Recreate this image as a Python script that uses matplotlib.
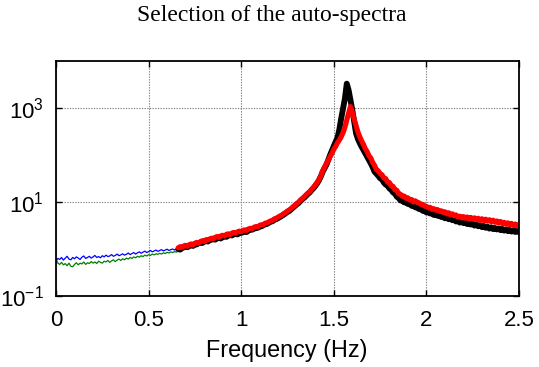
import numpy as np
import matplotlib
matplotlib.use("Agg")
import matplotlib.pyplot as plt
from matplotlib.ticker import NullLocator, FixedLocator

plt.rcParams['font.family'] = ['Liberation Sans', 'DejaVu Sans']
plt.rcParams['mathtext.default'] = 'regular'

# ---- data ----
title = "Selection of the auto-spectra"
xlabel = "Frequency (Hz)"
x_ticks = [0, 0.5, 1, 1.5, 2, 2.5]
x_ticklabels = ["0", "0.5", "1", "1.5", "2", "2.5"]
y_ticks = [0.1, 10, 1000]
y_ticklabels = [r"$\mathregular{10^{-1}}$", r"$\mathregular{10^{1}}$", r"$\mathregular{10^{3}}$"]

low_f_start, low_f_step = 0.00, 0.01
blue_vals = [0.55, 0.63, 0.60, 0.66, 0.58, 0.64, 0.70, 0.61, 0.59, 0.66,
             0.62, 0.68, 0.64, 0.60, 0.67, 0.71, 0.63, 0.66, 0.70, 0.64,
             0.68, 0.73, 0.66, 0.69, 0.65, 0.72, 0.68, 0.74, 0.69, 0.71,
             0.76, 0.70, 0.73, 0.78, 0.72, 0.75, 0.79, 0.74, 0.77, 0.82,
             0.76, 0.80, 0.84, 0.78, 0.83, 0.87, 0.81, 0.86, 0.90, 0.84,
             0.88, 0.93, 0.87, 0.91, 0.95, 0.89, 0.93, 0.97, 0.91, 0.95,
             0.99, 0.93, 0.97, 1.00, 0.95, 0.99, 1.02, 0.98, 1.01]
green_vals = [0.60, 0.50, 0.47, 0.52, 0.46, 0.49, 0.44, 0.50, 0.43, 0.42,
              0.47, 0.51, 0.46, 0.50, 0.48, 0.53, 0.47, 0.51, 0.49, 0.54,
              0.50, 0.53, 0.49, 0.55, 0.52, 0.50, 0.55, 0.53, 0.57, 0.52,
              0.56, 0.59, 0.54, 0.58, 0.61, 0.57, 0.62, 0.59, 0.64, 0.61,
              0.66, 0.63, 0.68, 0.65, 0.70, 0.67, 0.72, 0.69, 0.74, 0.71,
              0.76, 0.73, 0.78, 0.75, 0.79, 0.77, 0.81, 0.78, 0.83, 0.80,
              0.85, 0.82, 0.87, 0.84, 0.88, 0.86, 0.90, 0.88, 0.91]

main_f_start, main_f_step = 0.66, 0.01
black_vals = [1.00, 0.97, 1.05, 1.08, 1.12, 1.09, 1.18, 1.20, 1.16, 1.27,
              1.25, 1.33, 1.38, 1.34, 1.43, 1.48, 1.44, 1.55, 1.58, 1.62,
              1.58, 1.70, 1.73, 1.67, 1.80, 1.86, 1.81, 1.93, 1.98, 1.94,
              2.05, 2.10, 2.04, 2.18, 2.20, 2.28, 2.35, 2.30, 2.48, 2.56,
              2.58, 2.72, 2.78, 2.83, 3.00, 3.04, 3.22, 3.35, 3.42, 3.65,
              3.80, 3.92, 4.20, 4.33, 4.55, 4.80, 5.08, 5.40, 5.75, 6.15,
              6.45, 7.00, 7.55, 8.20, 8.90, 9.50, 10.5, 11.5, 12.3, 13.5,
              14.8, 16.0, 17.8, 19.6, 22.0, 25.0, 29.0, 35.0, 44.0, 52.0,
              62, 78, 100, 125, 155, 190, 235, 350, 600, 980,
              1600, 3300, 2400, 1480, 910, 510, 290, 220, 180, 150,
              128, 108, 92, 78, 66, 55, 44, 40, 36, 32,
              30.5, 26.0, 23.5, 22.4, 19.5, 18.2, 16.0, 15.1, 13.0, 12.2,
              10.8, 10.7, 9.8, 9.9, 9.1, 9.0, 8.3, 8.3, 7.7, 7.6,
              7.1, 7.1, 6.5, 6.5, 6.0, 6.1, 5.7, 5.8, 5.3, 5.5,
              5.1, 5.2, 4.8, 4.95, 4.5, 4.7, 4.3, 4.4, 4.1, 4.2,
              3.85, 4.0, 3.65, 3.85, 3.55, 3.7, 3.4, 3.55, 3.3, 3.45,
              3.15, 3.3, 3.05, 3.2, 2.92, 3.1, 2.83, 2.98, 2.72, 2.9,
              2.65, 2.8, 2.6, 2.72, 2.52, 2.68, 2.46, 2.6, 2.4, 2.55,
              2.35, 2.48, 2.30, 2.42, 2.28]
red_vals = [1.06, 1.12, 1.08, 1.16, 1.20, 1.14, 1.24, 1.28, 1.22, 1.33,
            1.38, 1.32, 1.44, 1.50, 1.45, 1.58, 1.55, 1.64, 1.70, 1.66,
            1.78, 1.84, 1.76, 1.90, 1.96, 1.88, 2.05, 2.10, 2.02, 2.18,
            2.25, 2.16, 2.32, 2.40, 2.33, 2.50, 2.55, 2.48, 2.68, 2.76,
            2.70, 2.92, 3.00, 2.95, 3.20, 3.28, 3.30, 3.55, 3.62, 3.78,
            3.98, 4.08, 4.40, 4.50, 4.80, 5.05, 5.25, 5.70, 5.95, 6.45,
            6.80, 7.25, 7.95, 8.50, 9.30, 9.90, 11.0, 11.8, 12.9, 14.0,
            15.5, 16.6, 18.6, 20.5, 23.0, 26.0, 30.0, 36.0, 46.0, 55.0,
            66, 76, 92, 108, 132, 152, 182, 208, 245, 300,
            390, 550, 780, 1070, 820, 580, 420, 310, 245, 200,
            168, 136, 118, 96, 86, 69, 60, 49, 46, 40,
            38, 32.5, 31.5, 26.5, 26.0, 22.0, 21.5, 18.2, 17.8, 15.0,
            14.6, 13.2, 13.4, 12.0, 12.3, 11.0, 11.3, 10.0, 10.6, 9.9,
            9.6, 8.9, 8.9, 8.2, 8.1, 7.5, 7.7, 7.0, 7.2, 6.7,
            6.9, 6.3, 6.5, 6.0, 6.2, 5.6, 5.9, 5.3, 5.6, 5.1,
            5.3, 4.8, 5.0, 4.6, 4.9, 4.5, 4.8, 4.35, 4.7, 4.3,
            4.6, 4.2, 4.5, 4.05, 4.4, 4.0, 4.3, 3.9, 4.2, 3.8,
            4.1, 3.7, 3.95, 3.55, 3.85, 3.45, 3.7, 3.35, 3.6, 3.25,
            3.5, 3.15, 3.4, 3.1, 3.3]

# frequency bins
f_low = low_f_start + low_f_step * np.arange(len(blue_vals))
f_main = main_f_start + main_f_step * np.arange(len(black_vals))

fig = plt.figure(figsize=(5.39, 3.67), dpi=100)
ax = fig.add_axes([56/539, 1-296/367, (519-56)/539, (296-61)/367])

ax.plot(f_low, blue_vals, color='#0000ff', lw=0.9)
ax.plot(f_low, green_vals, color='#008000', lw=0.9)
ax.plot(f_main, black_vals, color='black', lw=4.2, solid_joinstyle='round', solid_capstyle='round')
ax.plot(f_main, red_vals, color='#ff0000', lw=3.7, solid_joinstyle='round', solid_capstyle='round')

ax.set_yscale('log')
ax.set_xlim(0, 2.5)
ax.set_ylim(0.1, 1e4)
ax.xaxis.set_major_locator(FixedLocator(x_ticks))
ax.set_xticklabels(x_ticklabels)
ax.yaxis.set_major_locator(FixedLocator(y_ticks))
ax.yaxis.set_minor_locator(NullLocator())
ax.set_yticklabels(y_ticklabels)

ax.tick_params(direction='in', top=True, right=True, length=4, width=1,
               labelsize=16)
ax.tick_params(axis='x', pad=10)
ax.tick_params(axis='y', pad=9)
ax.grid(True, linestyle=(0, (1.2, 1.2)), color='#808080', linewidth=0.8)
for s in ax.spines.values():
    s.set_linewidth(1.3)

ax.set_xlabel(xlabel, fontsize=16.8)
ax.xaxis.set_label_coords((286.5-56)/463, (296-350)/235)
ax.xaxis.label.set_verticalalignment('center')
fig.text(271.5/539, 1-15/367, title, ha='center', va='center',
         family='Liberation Serif', fontsize=17)

fig.savefig('out.png', dpi=100)
